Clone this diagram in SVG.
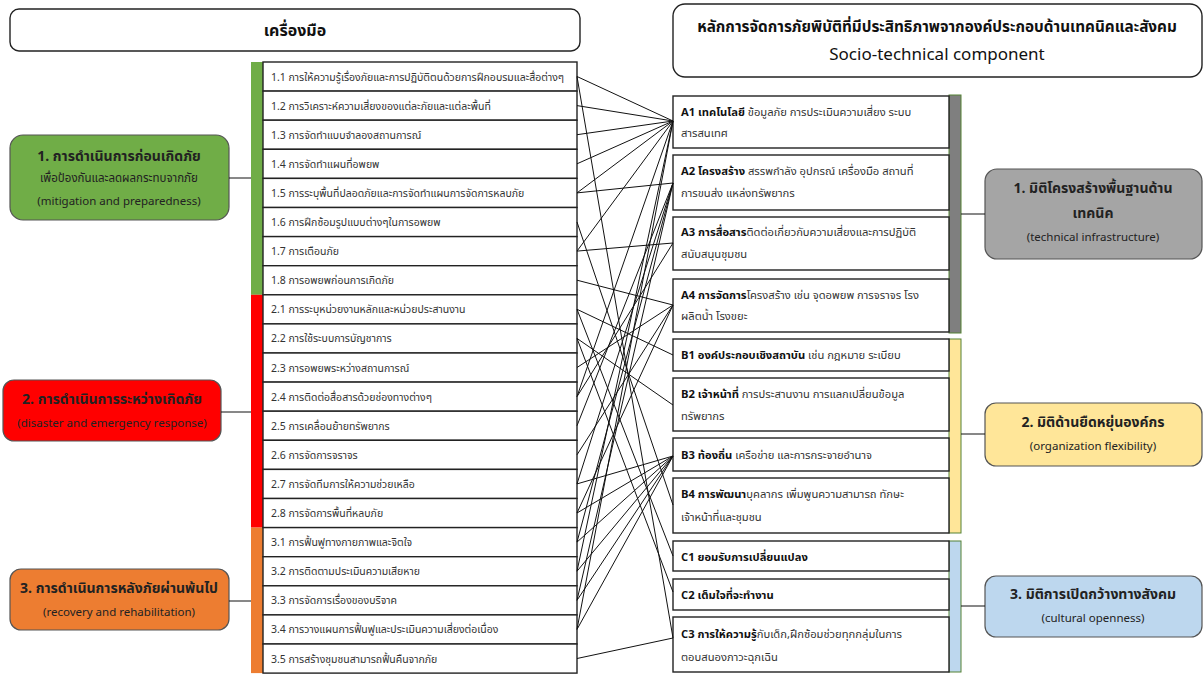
<svg xmlns="http://www.w3.org/2000/svg" width="1204" height="677" viewBox="0 0 1204 677">
<style>
.th{font-family:"Noto Sans Thai","Tahoma","Noto Sans","DejaVu Sans",sans-serif;}
.item rect{fill:#fff;stroke:#222;stroke-width:1.4;}
.item text{font-size:10.5px;fill:#333;}
.rb rect{fill:#fff;stroke:#222;stroke-width:1.4;}
.rb text{font-size:11.2px;fill:#333;}
.rb tspan.b{font-weight:bold;fill:#111;}
.lbl rect{stroke:#555;stroke-width:1.2;}
.lbl text{text-anchor:middle;fill:#222;}
.t1{font-size:14px;font-weight:bold;fill:#111;}
.t2{font-size:11.5px;fill:#333;}
.hdr rect{fill:#fff;stroke:#222;stroke-width:1.4;}
.hdr text{text-anchor:middle;fill:#111;}
#connectors line{stroke:#111;stroke-width:1;}
.tick{stroke:#555;stroke-width:1.2;}
</style>

<g id="header-tools" class="hdr th">
<rect x="10" y="9" width="570" height="42" rx="9"/>
<text x="295" y="36" font-weight="bold" font-size="16">เครื่องมือ</text>
</g>
<g id="header-socio" class="hdr th">
<rect x="673" y="4" width="529" height="73" rx="12"/>
<text x="937" y="32" font-weight="bold" font-size="15.3">หลักการจัดการภัยพิบัติที่มีประสิทธิภาพจากองค์ประกอบด้านเทคนิคและสังคม</text>
<text x="937" y="60" font-size="17">Socio-technical component</text>
</g>

<g id="bars">
<rect x="251" y="62" width="12" height="232.8" fill="#70AD47"/>
<rect x="251" y="294.8" width="12" height="232.8" fill="#FF0000"/>
<rect x="251" y="527.6" width="12" height="145.5" fill="#ED7D31"/>
<rect x="949" y="95" width="12" height="238" fill="#7F7F7F" stroke="#548235" stroke-width="1"/>
<rect x="949" y="339" width="12" height="194" fill="#FFE699" stroke="#548235" stroke-width="1"/>
<rect x="949" y="541" width="12" height="131" fill="#BDD7EE" stroke="#548235" stroke-width="1"/>
</g>

<g id="label-1" class="lbl th">
<rect x="10" y="135" width="219" height="85" rx="13" fill="#70AD47"/>
<text x="119" y="161" class="t1">1. การดำเนินการก่อนเกิดภัย</text>
<text x="119" y="182" class="t2">เพื่อป้องกันและลดผลกระทบจากภัย</text>
<text x="119" y="205" class="t2">(mitigation and preparedness)</text>
</g>
<g id="label-2" class="lbl th">
<rect x="3" y="380" width="218" height="61" rx="11" fill="#FF0000"/>
<text x="112" y="404" class="t1">2. การดำเนินการระหว่างเกิดภัย</text>
<text x="112" y="427" class="t2">(disaster and emergency response)</text>
</g>
<g id="label-3" class="lbl th">
<rect x="10" y="569" width="219" height="61" rx="11" fill="#ED7D31"/>
<text x="119" y="593" class="t1">3. การดำเนินการหลังภัยผ่านพ้นไป</text>
<text x="119" y="616" class="t2">(recovery and rehabilitation)</text>
</g>

<g id="label-r1" class="lbl th">
<rect x="985" y="169" width="217" height="90" rx="12" fill="#A5A5A5"/>
<text x="1093" y="193" class="t1">1. มิติโครงสร้างพื้นฐานด้าน</text>
<text x="1093" y="218" class="t1">เทคนิค</text>
<text x="1093" y="241" class="t2">(technical infrastructure)</text>
</g>
<g id="label-r2" class="lbl th">
<rect x="985" y="403" width="217" height="63" rx="11" fill="#FFE699"/>
<text x="1093" y="427" class="t1">2. มิติด้านยืดหยุ่นองค์กร</text>
<text x="1093" y="450" class="t2">(organization flexibility)</text>
</g>
<g id="label-r3" class="lbl th">
<rect x="985" y="576" width="217" height="61" rx="11" fill="#BDD7EE"/>
<text x="1093" y="599" class="t1">3. มิติการเปิดกว้างทางสังคม</text>
<text x="1093" y="622" class="t2">(cultural openness)</text>
</g>

<g id="item-1-1" class="item th"><rect x="263" y="62" width="314" height="29.1"/><text x="271" y="80.5">1.1 การให้ความรู้เรื่องภัยและการปฏิบัติตนด้วยการฝึกอบรมและสื่อต่างๆ</text></g>
<g id="item-1-2" class="item th"><rect x="263" y="91.1" width="314" height="29.1"/><text x="271" y="109.6">1.2 การวิเคราะห์ความเสี่ยงของแต่ละภัยและแต่ละพื้นที่</text></g>
<g id="item-1-3" class="item th"><rect x="263" y="120.2" width="314" height="29.1"/><text x="271" y="138.7">1.3 การจัดทำแบบจำลองสถานการณ์</text></g>
<g id="item-1-4" class="item th"><rect x="263" y="149.3" width="314" height="29.1"/><text x="271" y="167.8">1.4 การจัดทำแผนที่อพยพ</text></g>
<g id="item-1-5" class="item th"><rect x="263" y="178.4" width="314" height="29.1"/><text x="271" y="196.9">1.5 การระบุพื้นที่ปลอดภัยและการจัดทำแผนการจัดการหลบภัย</text></g>
<g id="item-1-6" class="item th"><rect x="263" y="207.5" width="314" height="29.1"/><text x="271" y="226">1.6 การฝึกซ้อมรูปแบบต่างๆในการอพยพ</text></g>
<g id="item-1-7" class="item th"><rect x="263" y="236.6" width="314" height="29.1"/><text x="271" y="255.1">1.7 การเตือนภัย</text></g>
<g id="item-1-8" class="item th"><rect x="263" y="265.7" width="314" height="29.1"/><text x="271" y="284.2">1.8 การอพยพก่อนการเกิดภัย</text></g>
<g id="item-2-1" class="item th"><rect x="263" y="294.8" width="314" height="29.1"/><text x="271" y="313.3">2.1 การระบุหน่วยงานหลักและหน่วยประสานงาน</text></g>
<g id="item-2-2" class="item th"><rect x="263" y="323.9" width="314" height="29.1"/><text x="271" y="342.4">2.2 การใช้ระบบการบัญชาการ</text></g>
<g id="item-2-3" class="item th"><rect x="263" y="353" width="314" height="29.1"/><text x="271" y="371.5">2.3 การอพยพระหว่างสถานการณ์</text></g>
<g id="item-2-4" class="item th"><rect x="263" y="382.1" width="314" height="29.1"/><text x="271" y="400.6">2.4 การติดต่อสื่อสารด้วยช่องทางต่างๆ</text></g>
<g id="item-2-5" class="item th"><rect x="263" y="411.2" width="314" height="29.1"/><text x="271" y="429.7">2.5 การเคลื่อนย้ายทรัพยากร</text></g>
<g id="item-2-6" class="item th"><rect x="263" y="440.3" width="314" height="29.1"/><text x="271" y="458.8">2.6 การจัดการจราจร</text></g>
<g id="item-2-7" class="item th"><rect x="263" y="469.4" width="314" height="29.1"/><text x="271" y="487.9">2.7 การจัดทีมการให้ความช่วยเหลือ</text></g>
<g id="item-2-8" class="item th"><rect x="263" y="498.5" width="314" height="29.1"/><text x="271" y="517">2.8 การจัดการพื้นที่หลบภัย</text></g>
<g id="item-3-1" class="item th"><rect x="263" y="527.6" width="314" height="29.1"/><text x="271" y="546.1">3.1 การฟื้นฟูทางกายภาพและจิตใจ</text></g>
<g id="item-3-2" class="item th"><rect x="263" y="556.7" width="314" height="29.1"/><text x="271" y="575.2">3.2 การติดตามประเมินความเสียหาย</text></g>
<g id="item-3-3" class="item th"><rect x="263" y="585.8" width="314" height="29.1"/><text x="271" y="604.3">3.3 การจัดการเรื่องของบริจาค</text></g>
<g id="item-3-4" class="item th"><rect x="263" y="614.9" width="314" height="29.1"/><text x="271" y="633.4">3.4 การวางแผนการฟื้นฟูและประเมินความเสี่ยงต่อเนื่อง</text></g>
<g id="item-3-5" class="item th"><rect x="263" y="644" width="314" height="29.1"/><text x="271" y="662.5">3.5 การสร้างชุมชนสามารถฟื้นคืนจากภัย</text></g>

<g id="box-A1" class="rb th"><rect x="673" y="96" width="276" height="52"/><text x="681" y="116"><tspan class="b">A1 เทคโนโลยี</tspan> ข้อมูลภัย การประเมินความเสี่ยง ระบบ</text><text x="681" y="137">สารสนเทศ</text></g>
<g id="box-A2" class="rb th"><rect x="673" y="155" width="276" height="55"/><text x="681" y="175"><tspan class="b">A2 โครงสร้าง</tspan> สรรพกำลัง อุปกรณ์ เครื่องมือ สถานที่</text><text x="681" y="197">การขนส่ง แหล่งทรัพยากร</text></g>
<g id="box-A3" class="rb th"><rect x="673" y="217" width="276" height="53"/><text x="681" y="236"><tspan class="b">A3 การสื่อสาร</tspan>ติดต่อเกี่ยวกับความเสี่ยงและการปฏิบัติ</text><text x="681" y="258">สนับสนุนชุมชน</text></g>
<g id="box-A4" class="rb th"><rect x="673" y="279" width="276" height="53"/><text x="681" y="299"><tspan class="b">A4 การจัดการ</tspan>โครงสร้าง เช่น จุดอพยพ การจราจร โรง</text><text x="681" y="320">ผลิตน้ำ โรงขยะ</text></g>
<g id="box-B1" class="rb th"><rect x="673" y="339" width="276" height="32"/><text x="681" y="359"><tspan class="b">B1 องค์ประกอบเชิงสถาบัน</tspan> เช่น กฎหมาย ระเบียบ</text></g>
<g id="box-B2" class="rb th"><rect x="673" y="378" width="276" height="53"/><text x="681" y="398"><tspan class="b">B2 เจ้าหน้าที่</tspan> การประสานงาน การแลกเปลี่ยนข้อมูล</text><text x="681" y="420">ทรัพยากร</text></g>
<g id="box-B3" class="rb th"><rect x="673" y="438" width="276" height="33"/><text x="681" y="459"><tspan class="b">B3 ท้องถิ่น</tspan> เครือข่าย และการกระจายอำนาจ</text></g>
<g id="box-B4" class="rb th"><rect x="673" y="478" width="276" height="55"/><text x="681" y="498"><tspan class="b">B4 การพัฒนา</tspan>บุคลากร เพิ่มพูนความสามารถ ทักษะ</text><text x="681" y="521">เจ้าหน้าที่และชุมชน</text></g>
<g id="box-C1" class="rb th"><rect x="673" y="541" width="276" height="30"/><text x="681" y="561"><tspan class="b">C1 ยอมรับการเปลี่ยนแปลง</tspan></text></g>
<g id="box-C2" class="rb th"><rect x="673" y="579" width="276" height="31"/><text x="681" y="599"><tspan class="b">C2 เต็มใจที่จะทำงาน</tspan></text></g>
<g id="box-C3" class="rb th"><rect x="673" y="617" width="276" height="55"/><text x="681" y="638"><tspan class="b">C3 การให้ความรู้</tspan>กับเด็ก,ฝึกซ้อมช่วยทุกกลุ่มในการ</text><text x="681" y="661">ตอบสนองภาวะฉุกเฉิน</text></g>

<g id="connectors">
<line class="tick" x1="229" y1="178" x2="251" y2="178"/>
<line class="tick" x1="221" y1="412" x2="251" y2="412"/>
<line class="tick" x1="229" y1="601" x2="251" y2="601"/>
<line class="tick" x1="961" y1="214" x2="985" y2="214"/>
<line class="tick" x1="961" y1="434" x2="985" y2="434"/>
<line class="tick" x1="961" y1="606" x2="985" y2="606"/>
<line x1="577" y1="76.5" x2="673" y2="121"/>
<line x1="577" y1="76.5" x2="673" y2="638"/>
<line x1="577" y1="105.6" x2="673" y2="121"/>
<line x1="577" y1="134.7" x2="673" y2="121"/>
<line x1="577" y1="163.8" x2="673" y2="121"/>
<line x1="577" y1="192.9" x2="673" y2="121"/>
<line x1="577" y1="192.9" x2="673" y2="183"/>
<line x1="577" y1="222" x2="673" y2="505"/>
<line x1="577" y1="251.1" x2="673" y2="121"/>
<line x1="577" y1="251.1" x2="673" y2="243"/>
<line x1="577" y1="280.2" x2="673" y2="305"/>
<line x1="577" y1="309.3" x2="673" y2="355"/>
<line x1="577" y1="309.3" x2="673" y2="556"/>
<line x1="577" y1="338.4" x2="673" y2="405"/>
<line x1="577" y1="338.4" x2="673" y2="592"/>
<line x1="577" y1="367.5" x2="673" y2="305"/>
<line x1="577" y1="396.6" x2="673" y2="121"/>
<line x1="577" y1="396.6" x2="673" y2="243"/>
<line x1="577" y1="425.7" x2="673" y2="183"/>
<line x1="577" y1="454.8" x2="673" y2="305"/>
<line x1="577" y1="483.9" x2="673" y2="183"/>
<line x1="577" y1="483.9" x2="673" y2="456"/>
<line x1="577" y1="513" x2="673" y2="305"/>
<line x1="577" y1="513" x2="673" y2="456"/>
<line x1="577" y1="542.1" x2="673" y2="183"/>
<line x1="577" y1="542.1" x2="673" y2="456"/>
<line x1="577" y1="571.2" x2="673" y2="121"/>
<line x1="577" y1="571.2" x2="673" y2="456"/>
<line x1="577" y1="600.3" x2="673" y2="183"/>
<line x1="577" y1="600.3" x2="673" y2="456"/>
<line x1="577" y1="629.4" x2="673" y2="121"/>
<line x1="577" y1="629.4" x2="673" y2="456"/>
<line x1="577" y1="658.5" x2="673" y2="638"/>
</g>
</svg>
